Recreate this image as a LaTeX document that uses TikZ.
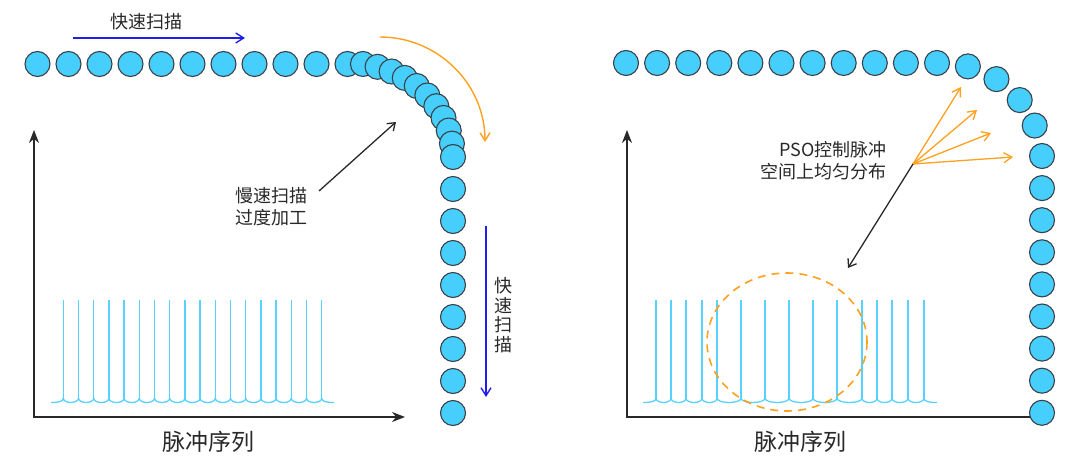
\documentclass[tikz,border=0pt]{standalone}
\usepackage{fontspec}
\setmainfont{Noto Sans CJK SC}
\usetikzlibrary{arrows.meta}
\definecolor{dotblue}{RGB}{70,206,252}
\definecolor{dotedge}{RGB}{58,66,72}
\definecolor{pulseblue}{RGB}{85,210,255}
\definecolor{scanorange}{RGB}{255,160,30}
\definecolor{scanblue}{RGB}{30,30,240}
\definecolor{labelgray}{RGB}{40,40,40}

\begin{document}
\begin{tikzpicture}[x=1pt,y=-1pt,
    dot/.style={circle,draw=dotedge,fill=dotblue,line width=1.1pt,minimum size=25pt,inner sep=0pt},
    pulse/.style={pulseblue,line width=1.3pt},
    axis/.style={labelgray,line width=1.4pt,{Stealth[length=13pt,width=10pt]}-{Stealth[length=13pt,width=10pt]}},
    fastarrow/.style={scanblue,line width=1.4pt,-{Straight Barb[length=8pt,width=10pt]}},
    turnarrow/.style={scanorange,line width=1.4pt,-{Straight Barb[length=8pt,width=10pt]}},
    pointer/.style={labelgray,line width=1.3pt,-{Straight Barb[length=7pt,width=10pt]}},
    label/.style={text=labelgray,font=\fontsize{18}{22}\selectfont,inner sep=0pt},
    title/.style={text=labelgray,font=\fontsize{23}{26}\selectfont,inner sep=0pt}]
\useasboundingbox (0,0) rectangle (1080,470);

\coordinate (ly) at (34,130);
\coordinate (lx) at (405,417);
\draw[axis] (ly) |- (lx);
\coordinate (ry) at (627,130);
\coordinate (rx) at (1046,417);
\draw[axis] (ry) |- (rx);

\draw[pulse] (51,402.5) .. controls (59,402.5) and (63.3,401.5) .. (63.3,398);
\foreach \x [remember=\x as \px (initially 63.3)] in {78.5,93.7,...,322}
    \draw[pulse] (\px,398) .. controls (\px,404) and (\x,404) .. (\x,398);
\foreach \x in {63.3,78.5,...,322}
    \draw[pulse] (\x,300) -- (\x,398);
\draw[pulse] (321.7,398) .. controls (321.7,401.5) and (326,402.5) .. (334,402.5);

\draw[pulse] (643,402.5) .. controls (651,402.5) and (656,401.5) .. (656,398);
\foreach \x [remember=\x as \px (initially 656)] in {671,686,702,717,741,765,789,813,837,862,877,892,908,924}
    \draw[pulse] (\px,398) .. controls (\px,404) and (\x,404) .. (\x,398);
\foreach \x in {656,671,686,702,717,741,765,789,813,837,862,877,892,908,924}
    \draw[pulse] (\x,300) -- (\x,398);
\draw[pulse] (924,398) .. controls (924,401.5) and (929,402.5) .. (937,402.5);

\draw[scanorange,line width=1.6pt,dash pattern=on 8pt off 6pt] (787,342) ellipse [x radius=80,y radius=69];

\foreach \i in {0,...,10}
    \node[dot] (top\i) at ({37.5+31*\i},64) {};
\foreach \k in {1,...,11}
    \node[dot] (bend\k) at ({348+105*cos(90-90*\k/11)},{157-94*sin(90-90*\k/11)}) {};
\foreach \j in {1,...,8}
    \node[dot] (down\j) at (453,{157+32*\j}) {};

\foreach \i in {0,...,10}
    \node[dot] (ptop\i) at ({626+31.1*\i},63) {};
\foreach \t [count=\k] in {75,57,39,22}
    \node[dot] (pbend\k) at ({942+100*cos(\t)},{163-100*sin(\t)}) {};
\foreach \j in {0,...,8}
    \node[dot] (pdown\j) at (1042,{156+32.1*\j}) {};

\node[label] (fast) at (146,22) {快速扫描};
\coordinate (fs) at (73,38);
\coordinate (fe) at (245,38);
\draw[fastarrow] (fs) -- (fe);

\node[label,align=center,font=\fontsize{18}{19.5}\selectfont] (fastv) at (503,315) {快\\速\\扫\\描};
\coordinate (vs) at (486,226);
\coordinate (ve) at (486,397);
\draw[fastarrow] (vs) -- (ve);

\coordinate (ts) at (380,37);
\coordinate (te) at (485,142);
\draw[turnarrow] (ts) .. controls (438,37) and (485,84) .. (te);

\node[label,anchor=west,align=left] (slow) at (235,207) {慢速扫描\\过度加工};
\coordinate (slowfoot) at (319,191);
\coordinate (slowhit) at (396,122);
\draw[pointer] (slowfoot) -- (slowhit);

\node[label,anchor=east,align=right] (pso) at (887,161) {PSO控制脉冲\\空间上均匀分布};
\coordinate (fan) at (913,164);
\foreach \p [count=\k] in {(961,87),(977,110),(991,133),(1013,157)}
    \draw[turnarrow,line width=1.3pt] (fan) -- \p coordinate (hit\k);
\coordinate (zone) at (848,268);
\draw[pointer] (fan) -- (zone);

\node[title] (seqleft) at (208,442) {脉冲序列};
\node[title] (seqright) at (800,442) {脉冲序列};
\end{tikzpicture}
\end{document}
